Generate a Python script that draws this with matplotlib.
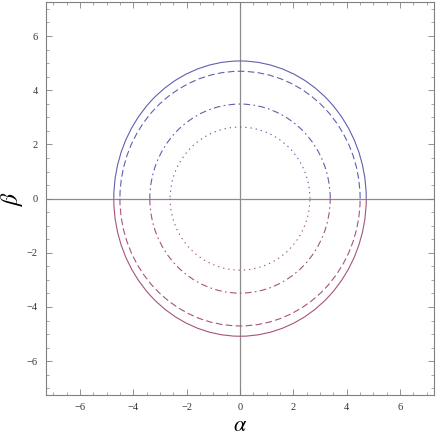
import matplotlib.pyplot as plt
from matplotlib.patches import Arc
from matplotlib.ticker import MultipleLocator

plt.rcParams['font.family'] = ['Liberation Serif', 'DejaVu Serif']
plt.rcParams['mathtext.fontset'] = 'stix'

# semi-axes of each closed curve
half_width = [4.73, 4.50, 3.38, 2.62]
half_height = [5.08, 4.70, 3.49, 2.64]
styles = ['-', (0, (6, 3)), (0, (6, 3, 1.5, 3)), (0, (1.2, 3.5))]

upper_color = '#6060b0'
lower_color = '#a4547f'
frame_gray = '#808080'

fig = plt.figure(figsize=(4.36, 4.36), dpi=100)
ax = fig.add_axes([0.1055, 0.094, 0.890, 0.901])

for w, h, ls in zip(half_width, half_height, styles):
    ax.add_patch(Arc((0, 0), 2 * w, 2 * h, theta1=0, theta2=180,
                     color=upper_color, lw=0.8, ls=ls))
    ax.add_patch(Arc((0, 0), 2 * w, 2 * h, theta1=180, theta2=360,
                     color=lower_color, lw=0.8, ls=ls))

ax.axhline(0, color='#8c8c8c', lw=0.9, zorder=0)
ax.axvline(0, color='#8c8c8c', lw=0.9, zorder=0)

ax.set_xlim(-7.27, 7.27)
ax.set_ylim(-7.25, 7.25)

ax.xaxis.set_major_locator(MultipleLocator(2))
ax.yaxis.set_major_locator(MultipleLocator(2))
ax.xaxis.set_minor_locator(MultipleLocator(0.5))
ax.yaxis.set_minor_locator(MultipleLocator(0.5))
ax.tick_params(which='both', direction='in', top=True, right=True,
               color=frame_gray, labelsize=7.5, labelcolor='#333333', pad=6)
ax.tick_params(which='major', length=4, width=0.6)
ax.tick_params(which='minor', length=2, width=0.5)

for s in ax.spines.values():
    s.set_color(frame_gray)
    s.set_linewidth(0.8)

ax.set_xlabel(r'$\alpha$', fontsize=16, labelpad=3)
ax.set_ylabel(r'$\beta$', fontsize=17, labelpad=1, rotation=90)

fig.savefig('out.png', dpi=100)
